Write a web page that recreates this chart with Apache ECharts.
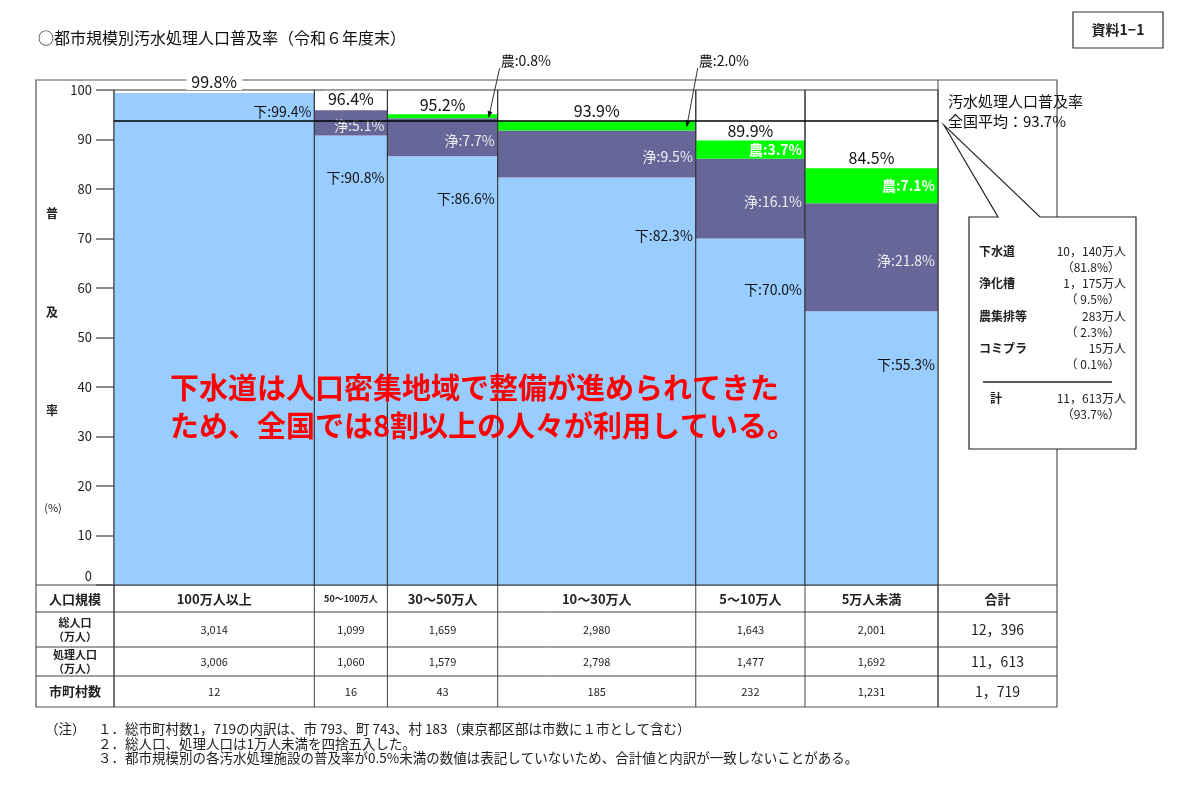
<!DOCTYPE html>
<html>
<head>
<meta charset="utf-8">
<script src="https://cdn.jsdelivr.net/npm/echarts@6/dist/echarts.min.js"></script>
<style>
  html, body { margin: 0; background: #fff; }
  #main { width: 1200px; height: 787px; }
</style>
</head>
<body>
<div id="main"></div>
<script>
// 都市規模別
const sizeLabels = ['100万人以上', '50〜100万人', '30〜50万人', '10〜30万人', '5〜10万人', '5万人未満'];
const totalPop = [3014, 1099, 1659, 2980, 1643, 2001];      // 総人口（万人）
const treatedPop = [3006, 1060, 1579, 2798, 1477, 1692];    // 処理人口（万人）
const municipalities = [12, 16, 43, 185, 232, 1231];        // 市町村数
const sewerRate = [99.4, 90.8, 86.6, 82.3, 70.0, 55.3];     // 下水道
const septicRate = [0.0, 5.1, 7.7, 9.5, 16.1, 21.8];        // 浄化槽
const agriRate = [0.0, 0.0, 0.8, 2.0, 3.7, 7.1];            // 農集排
const totalRate = [99.8, 96.4, 95.2, 93.9, 89.9, 84.5];     // 普及率計

// 合計
const sumTotalPop = 12396;
const sumTreatedPop = 11613;
const sumMunicipalities = 1719;

// 全国の内訳
const nationalItems = ['下水道', '浄化槽', '農集排等', 'コミプラ'];
const nationalPop = [10140, 1175, 283, 15];
const nationalRate = [81.8, 9.5, 2.3, 0.1];
const nationalAvg = 93.7;

const FONT = '"Noto Sans CJK JP", "Noto Sans", sans-serif';

let acc = 0;
const starts = totalPop.map(p => { const s = acc; acc += p; return s; });
const popSum = acc;

const columnData = totalPop.map((p, i) => [starts[i], starts[i] + p, sewerRate[i], septicRate[i], agriRate[i], totalRate[i]]);

// 下水道ラベルの縦位置（上端からのずれ）
const sewerLabelDy = [19, 42, 42, 58, 51, 53];

function txt(x, y, text, o) {
  o = o || {};
  return {
    type: 'text', x: x, y: y, z: o.z || 5,
    style: {
      text: text, fill: o.fill || '#222',
      fontSize: o.size || 13, fontFamily: FONT, fontWeight: o.weight || 'normal',
      align: o.align || 'left', verticalAlign: o.valign || 'middle',
      lineHeight: o.lineHeight, backgroundColor: o.bg, padding: o.padding
    }
  };
}

function renderColumn(params, api) {
  const i = params.dataIndex;
  const x0 = api.value(0), x1 = api.value(1);
  const s = api.value(2), j = api.value(3), a = api.value(4), t = api.value(5);
  const left = api.coord([x0, 0])[0];
  const right = api.coord([x1, 0])[0];
  const y = v => api.coord([x0, v])[1];
  const w = right - left;
  const kids = [];

  const seg = (from, to, color) => ({
    type: 'rect',
    shape: { x: left, y: y(to), width: w, height: y(from) - y(to) },
    style: { fill: color }
  });
  kids.push(seg(0, s, '#99CCFF'));
  if (j > 0) kids.push(seg(s, s + j, '#666699'));
  if (a > 0) kids.push(seg(s + j, s + j + a, '#00FF00'));

  kids.push({
    type: 'rect',
    shape: { x: left, y: y(100), width: w, height: y(0) - y(100) },
    style: { fill: null, stroke: '#333', lineWidth: 1 }
  });

  kids.push(txt(right - 3, y(s) + sewerLabelDy[i], '下:' + s.toFixed(1) + '%', { align: 'right', size: 14, fill: '#111' }));

  if (j >= 0.5) {
    kids.push(txt(right - 3, (y(s) + y(s + j)) / 2 + 3, '浄:' + j.toFixed(1) + '%', { align: 'right', size: 14, fill: '#eeeeee' }));
  }

  if (a >= 0.5) {
    const gy = (y(s + j) + y(s + j + a)) / 2;
    const label = '農:' + a.toFixed(1) + '%';
    if (a >= 3) {
      kids.push(txt(right - 3, gy, label, { align: 'right', size: 14, fill: '#fff', weight: 'bold' }));
    } else {
      const top = y(100);
      const sx = right + 2, sy = top - 22, ex = right - 9, ey = gy + 1;
      kids.push(txt(right + 3, top - 29, label, { size: 14, fill: '#111' }));
      kids.push({ type: 'line', shape: { x1: sx, y1: sy, x2: ex, y2: ey }, style: { stroke: '#333', lineWidth: 1 } });
      const dx = ex - sx, dy = ey - sy, len = Math.sqrt(dx * dx + dy * dy);
      const ux = dx / len, uy = dy / len;
      kids.push({
        type: 'polygon',
        shape: { points: [[ex, ey], [ex - 6 * ux + 2.5 * uy, ey - 6 * uy - 2.5 * ux], [ex - 6 * ux - 2.5 * uy, ey - 6 * uy + 2.5 * ux]] },
        style: { fill: '#111' }
      });
    }
  }

  kids.push(txt((left + right) / 2, y(t) - 1, t.toFixed(1) + '%', {
    align: 'center', valign: 'bottom', size: 16, fill: '#111', bg: '#fff', padding: [0, 5, 0, 5]
  }));

  return { type: 'group', children: kids };
}

const chart = echarts.init(document.getElementById('main'));

chart.setOption({
  animation: false,
  backgroundColor: '#fff',
  grid: { left: 114, right: 262, top: 90, bottom: 202 },
  xAxis: { type: 'value', min: 0, max: popSum, show: false },
  yAxis: {
    type: 'value', min: 0, max: 100, interval: 10,
    axisLine: { show: false },
    axisTick: { show: true, length: 18, lineStyle: { color: '#666', width: 1.5 } },
    splitLine: { show: false },
    axisLabel: {
      fontSize: 13, color: '#222', margin: 22, fontFamily: FONT,
      formatter: v => v === 0 ? '{z|0}' : String(v),
      rich: { z: { fontSize: 13, color: '#222', fontFamily: FONT, padding: [0, 0, 18, 0] } }
    }
  },
  series: [{
    type: 'custom',
    renderItem: renderColumn,
    encode: { x: [0, 1], y: 5 },
    data: columnData,
    markLine: {
      silent: true, symbol: 'none', z: 3,
      label: { show: false },
      lineStyle: { color: '#000', width: 1.5, type: 'solid' },
      data: [{ yAxis: nationalAvg }]
    }
  }]
});

// 表・注記などの周辺要素
const px = v => chart.convertToPixel({ xAxisIndex: 0 }, v);
const avgY = chart.convertToPixel({ yAxisIndex: 0 }, nationalAvg);
const bounds = starts.map(s => px(s)).concat([px(popSum)]);
const g = [];
const ln = (x1, y1, x2, y2, z) => ({ type: 'line', z: z || 1, shape: { x1, y1, x2, y2 }, style: { stroke: '#444', lineWidth: 1 } });

// 外枠
g.push({ type: 'rect', z: 0, shape: { x: 36, y: 80, width: 1021, height: 627 }, style: { fill: null, stroke: '#555', lineWidth: 1.2 } });
g.push(ln(bounds[6], 80, bounds[6], 707));

// 表
const rowY = [585, 612, 647, 676, 707];
rowY.slice(0, 4).forEach(yy => g.push(ln(36, yy, 1057, yy)));
bounds.forEach(x => g.push(ln(x, 585, x, 707)));
g.push(ln(114, 90, 114, 707));

const leftCx = 75;
g.push(txt(leftCx, 599, '人口規模', { align: 'center', size: 13, weight: 'bold' }));
g.push(txt(leftCx, 629.5, '総人口\n（万人）', { align: 'center', size: 11, weight: 'bold', lineHeight: 14 }));
g.push(txt(leftCx, 661.5, '処理人口\n（万人）', { align: 'center', size: 11, weight: 'bold', lineHeight: 14 }));
g.push(txt(leftCx, 691.5, '市町村数', { align: 'center', size: 13, weight: 'bold' }));

const fmt = v => v.toLocaleString('en-US');
sizeLabels.forEach((name, i) => {
  const cx = (bounds[i] + bounds[i + 1]) / 2;
  g.push(txt(cx, 599, name, { align: 'center', size: i === 1 ? 9 : 13, weight: 'bold' }));
  g.push(txt(cx, 630, fmt(totalPop[i]), { align: 'center', size: 11 }));
  g.push(txt(cx, 662, fmt(treatedPop[i]), { align: 'center', size: 11 }));
  g.push(txt(cx, 692, fmt(municipalities[i]), { align: 'center', size: 11 }));
});
const sumCx = (bounds[6] + 1057) / 2;
const fmtW = v => fmt(v).replace(',', '，');
g.push(txt(sumCx, 599, '合計', { align: 'center', size: 13, weight: 'bold' }));
g.push(txt(sumCx, 630, fmtW(sumTotalPop), { align: 'center', size: 14 }));
g.push(txt(sumCx, 662, fmtW(sumTreatedPop), { align: 'center', size: 14 }));
g.push(txt(sumCx, 692, fmtW(sumMunicipalities), { align: 'center', size: 14 }));

// 縦軸名
g.push(txt(52, 213, '普', { align: 'center', size: 12, weight: 'bold' }));
g.push(txt(52, 312, '及', { align: 'center', size: 12, weight: 'bold' }));
g.push(txt(52, 410, '率', { align: 'center', size: 12, weight: 'bold' }));
g.push(txt(53, 508, '(%)', { align: 'center', size: 11 }));

// タイトル
g.push(txt(38, 38, '○都市規模別汚水処理人口普及率（令和６年度末）', { size: 16, fill: '#111' }));
g.push({ type: 'rect', z: 1, shape: { x: 1073, y: 12, width: 90, height: 36 }, style: { fill: '#fff', stroke: '#333', lineWidth: 1.2 } });
g.push(txt(1118, 30, '資料1−1', { align: 'center', size: 14, weight: 'bold' }));

// 全国平均
g.push(txt(bounds[6] + 10, avgY - 20, '汚水処理人口普及率', { size: 15, fill: '#111' }));
g.push(txt(bounds[6] + 10, avgY, '全国平均：' + nationalAvg.toFixed(1) + '%', { size: 15, fill: '#111' }));

// 吹き出し
g.push({
  type: 'polygon', z: 10,
  shape: { points: [[969, 217], [998, 217], [bounds[6] + 6, avgY + 4], [1040, 217], [1136, 217], [1136, 449], [969, 449]] },
  style: { fill: '#fff', stroke: '#222', lineWidth: 1.2 }
});
nationalItems.forEach((name, i) => {
  const yy = 251 + i * 32.5;
  g.push(txt(979, yy, name, { size: 12, weight: 'bold', z: 11 }));
  g.push(txt(1126, yy, fmtW(nationalPop[i]) + '万人', { size: 12, align: 'right', z: 11 }));
  const r = nationalRate[i] < 10 ? '（ ' + nationalRate[i].toFixed(1) + '%）' : '（' + nationalRate[i].toFixed(1) + '%）';
  g.push(txt(1120, yy + 16, r, { size: 12, align: 'right', z: 11 }));
});
g.push({ type: 'line', z: 11, shape: { x1: 983, y1: 382, x2: 1112, y2: 382 }, style: { stroke: '#222', lineWidth: 1.5 } });
g.push(txt(990, 398, '計', { size: 12, weight: 'bold', z: 11 }));
g.push(txt(1126, 398, fmtW(sumTreatedPop) + '万人', { size: 12, align: 'right', z: 11 }));
g.push(txt(1120, 414, '（' + nationalAvg.toFixed(1) + '%）', { size: 12, align: 'right', z: 11 }));

// 強調メッセージ
g.push(txt(170, 388, '下水道は人口密集地域で整備が進められてきた', { size: 29, weight: 'bold', fill: '#FF0000', z: 20 }));
g.push(txt(170, 426, 'ため、全国では8割以上の人々が利用している。', { size: 29, weight: 'bold', fill: '#FF0000', z: 20 }));

// 注記
g.push(txt(45, 729, '（注）', { size: 13.5 }));
g.push(txt(98, 729, '１．総市町村数1，719の内訳は、市 793、町 743、村 183（東京都区部は市数に１市として含む）', { size: 13.5 }));
g.push(txt(98, 744, '２．総人口、処理人口は1万人未満を四捨五入した。', { size: 13.5 }));
g.push(txt(98, 758, '３．都市規模別の各汚水処理施設の普及率が0.5%未満の数値は表記していないため、合計値と内訳が一致しないことがある。', { size: 13.5 }));

chart.setOption({ graphic: { elements: g } });
</script>
</body>
</html>
